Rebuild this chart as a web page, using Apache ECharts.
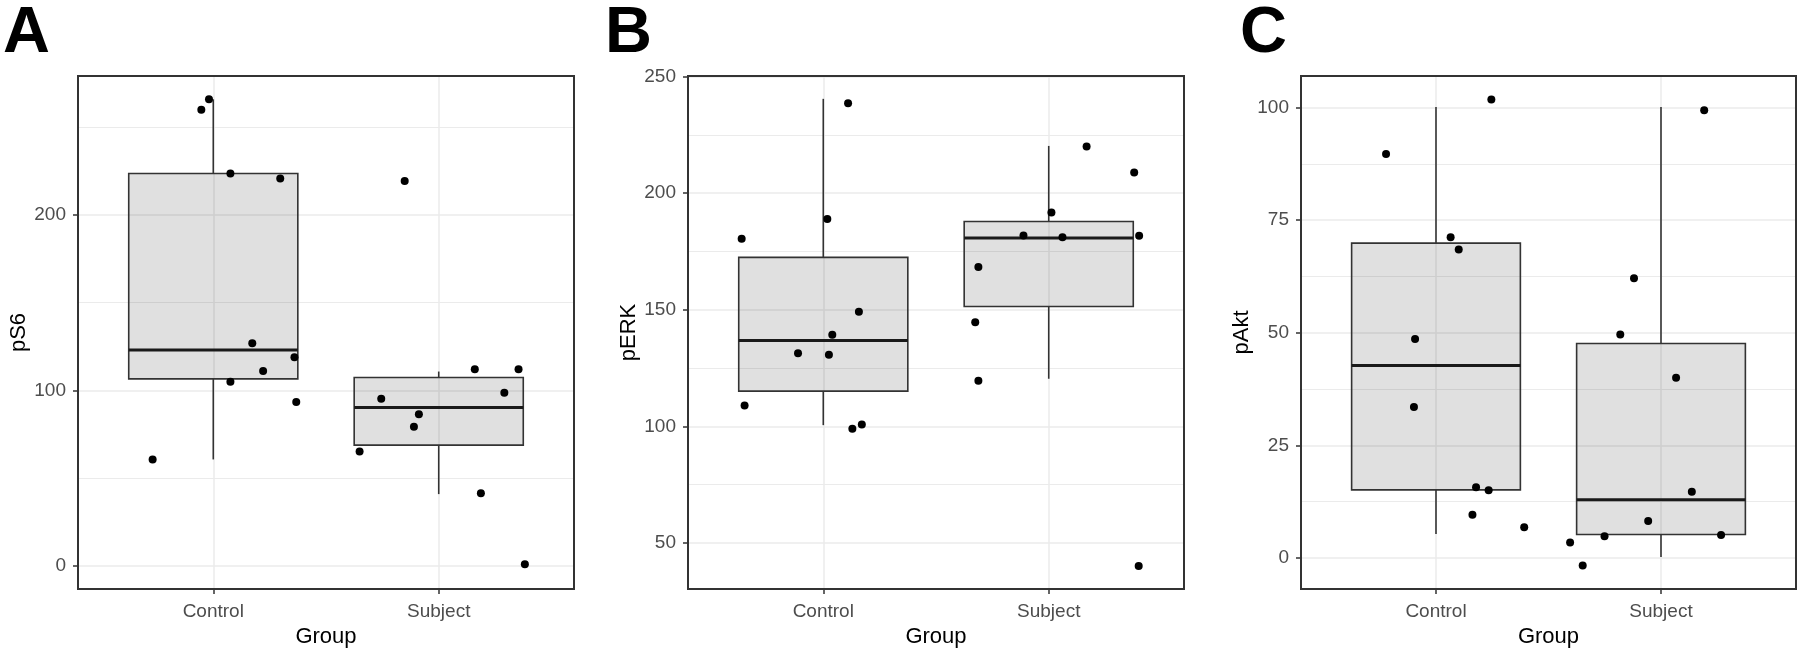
<!DOCTYPE html>
<html>
<head>
<meta charset="utf-8">
<script src="https://cdn.jsdelivr.net/npm/echarts@6/dist/echarts.min.js"></script>
<style>
html,body{margin:0;padding:0;background:#fff;}
#chart{width:1800px;height:653px;}
</style>
</head>
<body>
<div id="chart"></div>
<script>
// ---------- data ----------
const categories = ['Control', 'Subject'];
const panelLetters = ['A', 'B', 'C'];
const yTitles = ['pS6', 'pERK', 'pAkt'];
const xTitle = 'Group';

// box statistics: [lower whisker, Q1, median, Q3, upper whisker]
const pS6ControlBox = [60.5, 106.5, 123.0, 223.8, 266.2];
const pS6SubjectBox = [40.7, 68.7, 90.2, 107.3, 110.7];
const pERKControlBox = [100.5, 115.1, 136.8, 172.5, 240.5];
const pERKSubjectBox = [120.4, 151.4, 180.8, 187.9, 220.3];
const pAktControlBox = [5.3, 15.1, 42.7, 69.9, 100.1];
const pAktSubjectBox = [0.2, 5.2, 12.9, 47.6, 100.1];

// jittered points: values and horizontal jitter (offset from category centre)
const pS6ControlValues = [260.2, 266.2, 223.8, 221.0, 126.8, 118.8, 111.0, 104.8, 93.3, 60.5];
const pS6ControlJitter = [-0.053, -0.019, 0.076, 0.297, 0.173, 0.360, 0.221, 0.076, 0.368, -0.269];
const pS6SubjectValues = [219.5, 65.1, 95.2, 86.3, 79.1, 112.0, 112.0, 98.6, 41.2, 0.7];
const pS6SubjectJitter = [-0.151, -0.351, -0.255, -0.088, -0.110, 0.160, 0.354, 0.291, 0.187, 0.382];

const pERKControlValues = [238.6, 189.0, 180.5, 149.2, 139.3, 131.3, 130.7, 108.9, 99.0, 100.8];
const pERKControlJitter = [0.110, 0.018, -0.362, 0.158, 0.040, -0.112, 0.025, -0.349, 0.129, 0.171];
const pERKSubjectValues = [220.1, 208.9, 191.7, 181.9, 181.1, 181.8, 168.4, 144.7, 119.5, 40.1];
const pERKSubjectJitter = [0.168, 0.379, 0.012, -0.112, 0.061, 0.401, -0.312, -0.326, -0.312, 0.399];

const pAktControlValues = [89.7, 101.8, 71.2, 68.5, 48.6, 33.5, 15.7, 15.0, 9.6, 6.8];
const pAktControlJitter = [-0.222, 0.246, 0.065, 0.101, -0.093, -0.098, 0.178, 0.234, 0.162, 0.392];
const pAktSubjectValues = [62.1, 99.4, 3.4, -1.7, 4.8, 49.6, 40.0, 14.7, 8.2, 5.1];
const pAktSubjectJitter = [-0.120, 0.192, -0.404, -0.348, -0.251, -0.181, 0.067, 0.137, -0.057, 0.267];

// axis ranges and ticks
const pS6Range = [-13.5, 279.5];
const pERKRange = [30.2, 250.3];
const pAktRange = [-6.9, 107.0];
const pS6Ticks = [0, 100, 200];
const pS6MinorTicks = [50, 150, 250];
const pERKTicks = [50, 100, 150, 200, 250];
const pERKMinorTicks = [75, 125, 175, 225];
const pAktTicks = [0, 25, 50, 75, 100];
const pAktMinorTicks = [12.5, 37.5, 62.5, 87.5];
const xTickPositions = [1, 2];

// ---------- build ----------
const panels = [
  {boxes: [pS6ControlBox, pS6SubjectBox], vals: [pS6ControlValues, pS6SubjectValues], jit: [pS6ControlJitter, pS6SubjectJitter], range: pS6Range, ticks: pS6Ticks, minor: pS6MinorTicks},
  {boxes: [pERKControlBox, pERKSubjectBox], vals: [pERKControlValues, pERKSubjectValues], jit: [pERKControlJitter, pERKSubjectJitter], range: pERKRange, ticks: pERKTicks, minor: pERKMinorTicks},
  {boxes: [pAktControlBox, pAktSubjectBox], vals: [pAktControlValues, pAktSubjectValues], jit: [pAktControlJitter, pAktSubjectJitter], range: pAktRange, ticks: pAktTicks, minor: pAktMinorTicks}
];

const gridLayout = [
  {left: 78, top: 76, width: 496, height: 516},
  {left: 688, top: 76, width: 496, height: 516},
  {left: 1301, top: 76, width: 495, height: 516}
];
const letterPos = [3, 605, 1240];

const FONT = '"Liberation Sans", Arial, Helvetica, sans-serif';
const DARK = '#333333';
const GRIDC = '#ebebeb';

function renderBox(params, api) {
  const x = api.value(0);
  const lo = api.coord([x, api.value(1)]);
  const q1 = api.coord([x, api.value(2)]);
  const med = api.coord([x, api.value(3)]);
  const q3 = api.coord([x, api.value(4)]);
  const hi = api.coord([x, api.value(5)]);
  const half = api.size([0.75, 0])[0] / 2;
  const cx = lo[0];
  const lineStyle = {stroke: DARK, lineWidth: 1.6};
  return {
    type: 'group',
    children: [
      {type: 'line', shape: {x1: cx, y1: hi[1], x2: cx, y2: q3[1]}, style: lineStyle},
      {type: 'line', shape: {x1: cx, y1: q1[1], x2: cx, y2: lo[1]}, style: lineStyle},
      {type: 'rect', shape: {x: cx - half, y: q3[1], width: half * 2, height: q1[1] - q3[1]},
        style: {fill: 'rgba(0,0,0,0.12)', stroke: DARK, lineWidth: 1.6}},
      {type: 'line', shape: {x1: cx - half, y1: med[1], x2: cx + half, y2: med[1]},
        style: {stroke: '#1a1a1a', lineWidth: 3}}
    ]
  };
}

const grid = [], xAxis = [], yAxis = [], series = [], title = [];
panels.forEach((p, i) => {
  grid.push(Object.assign({show: true, z: 10, borderColor: DARK, borderWidth: 2, backgroundColor: 'transparent'}, gridLayout[i]));
  title.push({text: panelLetters[i], left: letterPos[i], top: 2, padding: 0,
    textStyle: {fontFamily: FONT, fontWeight: 'bold', fontSize: 65, color: '#000'}});
  xAxis.push({
    type: 'value', gridIndex: i, min: 0.4, max: 2.6, position: 'bottom',
    name: xTitle, nameLocation: 'middle', nameGap: 37,
    nameTextStyle: {fontFamily: FONT, fontSize: 22, color: '#000'},
    axisLine: {show: false, onZero: false},
    axisTick: {show: true, length: 5, customValues: xTickPositions, lineStyle: {color: DARK, width: 1.5}},
    axisLabel: {show: true, margin: 13, customValues: xTickPositions,
      formatter: v => categories[Math.round(v) - 1] || '',
      fontFamily: FONT, fontSize: 19, color: '#4d4d4d'},
    splitLine: {show: true, lineStyle: {color: GRIDC, width: 1.5}}
  });
  yAxis.push({
    type: 'value', gridIndex: i, min: p.range[0], max: p.range[1], position: 'left',
    name: yTitles[i], nameLocation: 'middle', nameGap: 41,
    nameTextStyle: {fontFamily: FONT, fontSize: 22, color: '#000'},
    axisLine: {show: false, onZero: false},
    axisTick: {show: true, length: 5, customValues: p.ticks, lineStyle: {color: DARK, width: 1.5}},
    axisLabel: {show: true, margin: 12, customValues: p.ticks,
      fontFamily: FONT, fontSize: 19, color: '#4d4d4d'},
    splitLine: {show: true, lineStyle: {color: GRIDC, width: 1.5}}
  });
  yAxis.push({
    type: 'value', gridIndex: i, min: p.range[0], max: p.range[1], position: 'left',
    axisLine: {show: false, onZero: false},
    axisTick: {show: false, customValues: p.minor},
    axisLabel: {show: false, customValues: p.minor},
    splitLine: {show: true, lineStyle: {color: GRIDC, width: 1}}
  });
  const boxData = p.boxes.map((b, k) => [k + 1].concat(b));
  series.push({
    type: 'custom', xAxisIndex: i, yAxisIndex: 2 * i, z: 2,
    renderItem: renderBox,
    encode: {x: 0, y: [1, 2, 3, 4, 5]},
    data: boxData, silent: true
  });
  const pts = [];
  p.vals.forEach((arr, k) => arr.forEach((v, j) => pts.push([k + 1 + p.jit[k][j], v])));
  series.push({
    type: 'scatter', xAxisIndex: i, yAxisIndex: 2 * i, z: 3,
    symbolSize: 8, itemStyle: {color: '#000', opacity: 1},
    data: pts, silent: true
  });
});

const chart = echarts.init(document.getElementById('chart'), null, {renderer: 'canvas'});
chart.setOption({
  animation: false,
  backgroundColor: '#fff',
  title, grid, xAxis, yAxis, series
});
</script>
</body>
</html>
